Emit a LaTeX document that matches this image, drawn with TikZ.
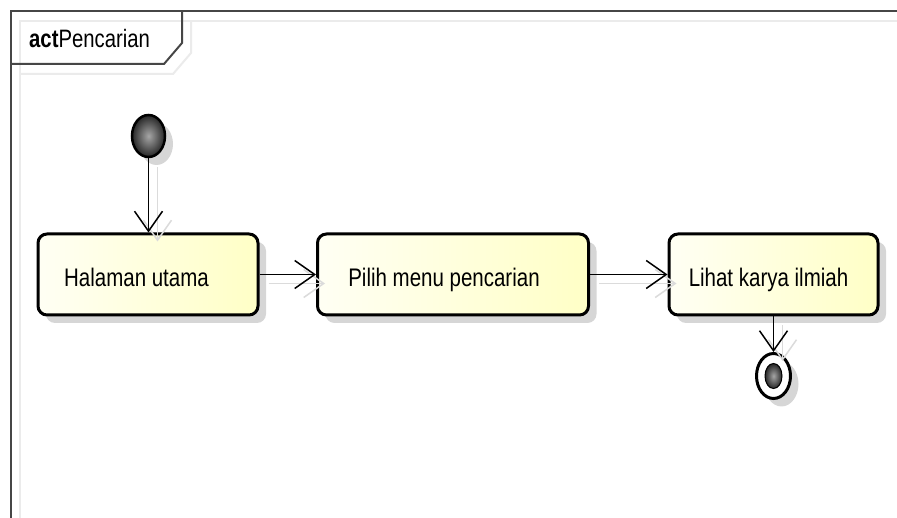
\documentclass[tikz,border=0pt]{standalone}
\usepackage{fontspec}
\usepackage{graphicx}
\setmainfont{Liberation Sans}
\usetikzlibrary{arrows.meta,shapes.geometric,shadows}

\definecolor{actL}{RGB}{255,255,244}
\definecolor{actR}{RGB}{255,255,198}
\definecolor{frameC}{RGB}{70,70,70}

% tall, narrow lettering of the modelling tool
\newcommand{\tallcaps}[1]{\scalebox{1}[1.24]{#1}}
% invisible pad that moves a label left of the box centre
\newcommand{\padright}[1]{\rule{#1}{0pt}}

\begin{document}
\begin{tikzpicture}[x=1pt,y=-1pt,
  frameline/.style={draw=frameC, line width=2pt},
  framehalo/.style={draw=black!8, line width=2pt, transform canvas={shift={(9pt,-10pt)}}},
  softshadow/.style={drop shadow={shadow xshift=8pt, shadow yshift=-8pt, fill=black, opacity=0.16}},
  action/.style={draw=black, line width=3pt, rounded corners=9pt, inner sep=0pt,
    left color=actL, right color=actR, softshadow,
    text height=24pt, text depth=0pt,
    font=\fontsize{20.5}{25}\selectfont},
  flow/.style={draw=black, line width=1.5pt, -{Straight Barb[length=20pt,width=28pt]}},
  flowhalo/.style={draw=black!14, line width=1.5pt, -{Straight Barb[length=20pt,width=28pt]},
    transform canvas={shift={(9pt,-9pt)}}},
  startnode/.style={ellipse, draw=black, line width=2.5pt, inner sep=0pt,
    minimum width=33pt, minimum height=42pt,
    inner color=black!35, outer color=black!85, softshadow},
]
\useasboundingbox (0,0) rectangle (897,518);
\fill[white] (0,0) rectangle (897,518);

% diagram frame with its name tab
\draw[framehalo] (11,518) -- (11,11) -- (897,11);
\draw[framehalo] (11,64) -- (164,64) -- (182,43) -- (182,11);
\draw[frameline] (11,518) -- (11,11) -- (897,11);
\draw[frameline] (11,64) -- (164,64) -- (182,43) -- (182,11);
\node[anchor=base west, inner sep=0pt, font=\fontsize{20.3}{25}\selectfont] (title) at (29,48) {\tallcaps{\textbf{act}Pencarian}};

% initial node
\node[startnode] (start) at (148.5,136) {};

% actions
\node[action, minimum width=220pt, minimum height=81pt] (halaman) at (148,274.5) {\tallcaps{Halaman utama}\padright{23pt}};
\node[action, minimum width=271pt, minimum height=81pt] (pilih) at (453,274.5) {\tallcaps{Pilih menu pencarian}\padright{18pt}};
\node[action, minimum width=209pt, minimum height=81pt] (lihat) at (773.5,274.5) {\tallcaps{Lihat karya ilmiah}\padright{10pt}};

% final node
\node[ellipse, draw=black, line width=3pt, fill=white, inner sep=0pt,
  minimum width=34pt, minimum height=45pt, softshadow] (finish) at (773.5,376) {};
\node[ellipse, draw=black, line width=1pt, inner sep=0pt,
  minimum width=17pt, minimum height=25pt,
  inner color=black!35, outer color=black!85] (finishdot) at (finish.center) {};

% faint connector shadows
\draw[flowhalo] (start.south) -- (start.south |- halaman.north);
\draw[flowhalo] (halaman.east) -- (pilih.west);
\draw[flowhalo] (pilih.east) -- (lihat.west);
\draw[flowhalo] (lihat.south) -- (finish.north);

% control flows
\draw[flow] (start.south) -- (start.south |- halaman.north);
\draw[flow] (halaman.east) -- (pilih.west);
\draw[flow] (pilih.east) -- (lihat.west);
\draw[flow] (lihat.south) -- (finish.north);
\end{tikzpicture}
\end{document}
